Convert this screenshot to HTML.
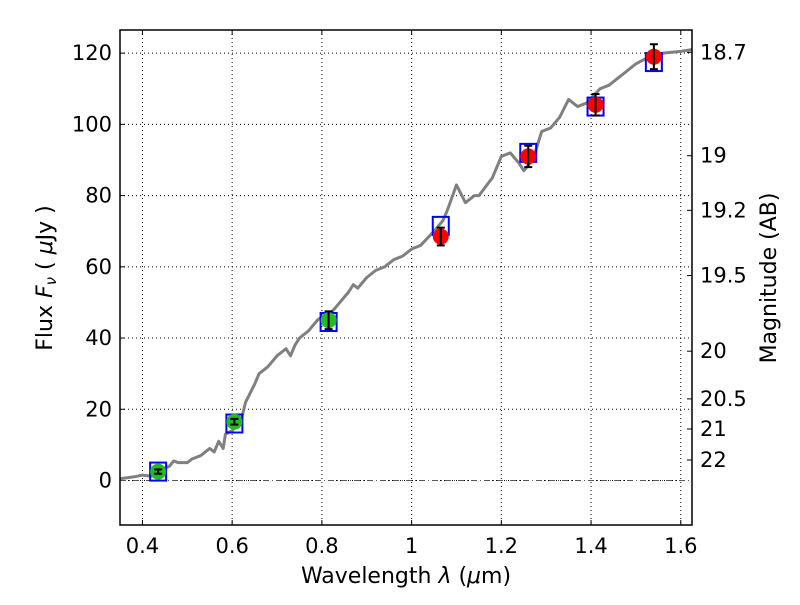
<!DOCTYPE html>
<html><head><meta charset="utf-8"><style>
body{margin:0;background:#fff;}
svg text{font-family:"DejaVu Sans","Liberation Sans",sans-serif;fill:#000;}
</style></head><body>
<svg id="chart" width="800" height="600" xmlns="http://www.w3.org/2000/svg"></svg>
<script>
const specLam=[0.35,0.38,0.40,0.42,0.44,0.46,0.47,0.48,0.50,0.51,0.53,0.55,0.56,0.57,0.58,0.585,0.60,0.62,0.63,0.65,0.66,0.68,0.70,0.72,0.73,0.74,0.75,0.77,0.79,0.80,0.82,0.84,0.86,0.87,0.88,0.90,0.92,0.94,0.96,0.98,1.00,1.02,1.05,1.07,1.08,1.10,1.12,1.14,1.15,1.18,1.20,1.22,1.24,1.25,1.27,1.29,1.31,1.33,1.35,1.37,1.39,1.42,1.44,1.47,1.50,1.53,1.56,1.60,1.625];
const specFlux=[0.5,1,1.5,1.2,3,4,5.5,5,5,6,7,9,8,11,9,13,14,17,22,27,30,32,35,37,35,38,40,42,45,46,47,50,53,55,54,57,59,60,62,63,65,66,70,73,76,83,78,80,80,85,91,92,89,87,90,98,99,102,107,105,106,110,111,114,117,119,120,120.5,121];
const obsLam=[0.435,0.605,0.815,1.065,1.26,1.41,1.54];
const obsFlux=[2.5,16.5,45,68.5,91,105.5,119];
const obsErr=[0.6,0.8,2.5,2.5,3,3,3.5];
const obsColor=['#22bb22','#22bb22','#22bb22','red','red','red','red'];
const modelFlux=[2.5,16,44.5,71.5,92,105,117.5];
const xTicks=[0.4,0.6,0.8,1,1.2,1.4,1.6];
const yTicks=[0,20,40,60,80,100,120];
const magTicks=[18.7,19,19.2,19.5,20,20.5,21,22];

const L=120,R=692,T=30,B=525,xmin=0.35,xmax=1.625,ymin=-12.5,ymax=126.5;
const X=v=>L+(v-xmin)/(xmax-xmin)*(R-L);
const Y=v=>B-(v-ymin)/(ymax-ymin)*(B-T);
const svg=document.getElementById('chart');
const NS='http://www.w3.org/2000/svg';
function mk(tag,attrs,parent){const e=document.createElementNS(NS,tag);for(const k in attrs)e.setAttribute(k,attrs[k]);(parent||svg).appendChild(e);return e;}

xTicks.forEach(t=>{
 const g=mk('line',{x1:X(t),x2:X(t),y1:T,y2:B,stroke:'#000','stroke-dasharray':'1,3','stroke-width':1});
 
 
 mk('line',{x1:X(t),x2:X(t),y1:B,y2:B-5,stroke:'#000'});
 mk('line',{x1:X(t),x2:X(t),y1:T,y2:T+5,stroke:'#000'});
 const tx=mk('text',{x:X(t),y:B+28,'text-anchor':'middle','font-size':21});
 tx.textContent=String(t);
 
 
});
yTicks.forEach(t=>{
 const g=mk('line',{x1:L,x2:R,y1:Y(t),y2:Y(t),stroke:'#000','stroke-dasharray':'1,3','stroke-width':1});
 
 
 mk('line',{x1:L,x2:L+5,y1:Y(t),y2:Y(t),stroke:'#000'});
 const tx=mk('text',{x:L-8,y:Y(t)+7,'text-anchor':'end','font-size':21});
 tx.textContent=String(t);
 
 
});
const z=mk('line',{x1:L,x2:R,y1:Y(0),y2:Y(0),stroke:'#555','stroke-dasharray':'6,3,1,3','stroke-width':1});


magTicks.forEach(m=>{
 const f=Math.pow(10,(23.9-m)/2.5);
 mk('line',{x1:R,x2:R-5,y1:Y(f),y2:Y(f),stroke:'#000'});
 const tx=mk('text',{x:R+8,y:Y(f)+7,'font-size':21});
 tx.textContent=String(m);
 
 
});
const sp=mk('polyline',{points:specLam.map((l,i)=>X(l)+','+Y(specFlux[i])).join(' '),fill:'none',stroke:'#808080','stroke-width':3,'stroke-linejoin':'round'});


obsLam.forEach((l,i)=>{
 const r=mk('rect',{x:X(l)-8,y:Y(modelFlux[i])-9,width:16,height:18,fill:'none',stroke:'#0000ff','stroke-width':2});
 
 
});
obsLam.forEach((l,i)=>{
 const c=mk('circle',{cx:X(l),cy:Y(obsFlux[i]),r:8,fill:obsColor[i]});
 
 
 const y1=Y(obsFlux[i]+obsErr[i]),y2=Y(obsFlux[i]-obsErr[i]);
 mk('line',{x1:X(l),x2:X(l),y1:y1,y2:y2,stroke:'#000','stroke-width':2});
 mk('line',{x1:X(l)-4,x2:X(l)+4,y1:y1,y2:y1,stroke:'#000','stroke-width':2});
 mk('line',{x1:X(l)-4,x2:X(l)+4,y1:y2,y2:y2,stroke:'#000','stroke-width':2});
});
const fr=mk('rect',{x:L,y:T,width:R-L,height:B-T,fill:'none',stroke:'#000','stroke-width':1.5});


</script>
<svg width="800" height="600" style="position:absolute;left:0;top:0" xmlns="http://www.w3.org/2000/svg">
<text x="406" y="583" text-anchor="middle" font-size="22" font-family="DejaVu Sans, Liberation Sans, sans-serif">Wavelength  <tspan font-style="italic">λ</tspan> (<tspan font-style="italic">μ</tspan>m)</text>
<text transform="translate(52,278) rotate(-90)" text-anchor="middle" font-size="22" font-family="DejaVu Sans, Liberation Sans, sans-serif">Flux  <tspan font-style="italic">F</tspan><tspan font-style="italic" font-size="15" dy="4">ν</tspan><tspan dy="-4">  ( </tspan><tspan font-style="italic">μ</tspan>Jy )</text>
<text transform="translate(776,278) rotate(-90)" text-anchor="middle" font-size="22" font-family="DejaVu Sans, Liberation Sans, sans-serif">Magnitude (AB)</text>
</svg>
</body></html>
